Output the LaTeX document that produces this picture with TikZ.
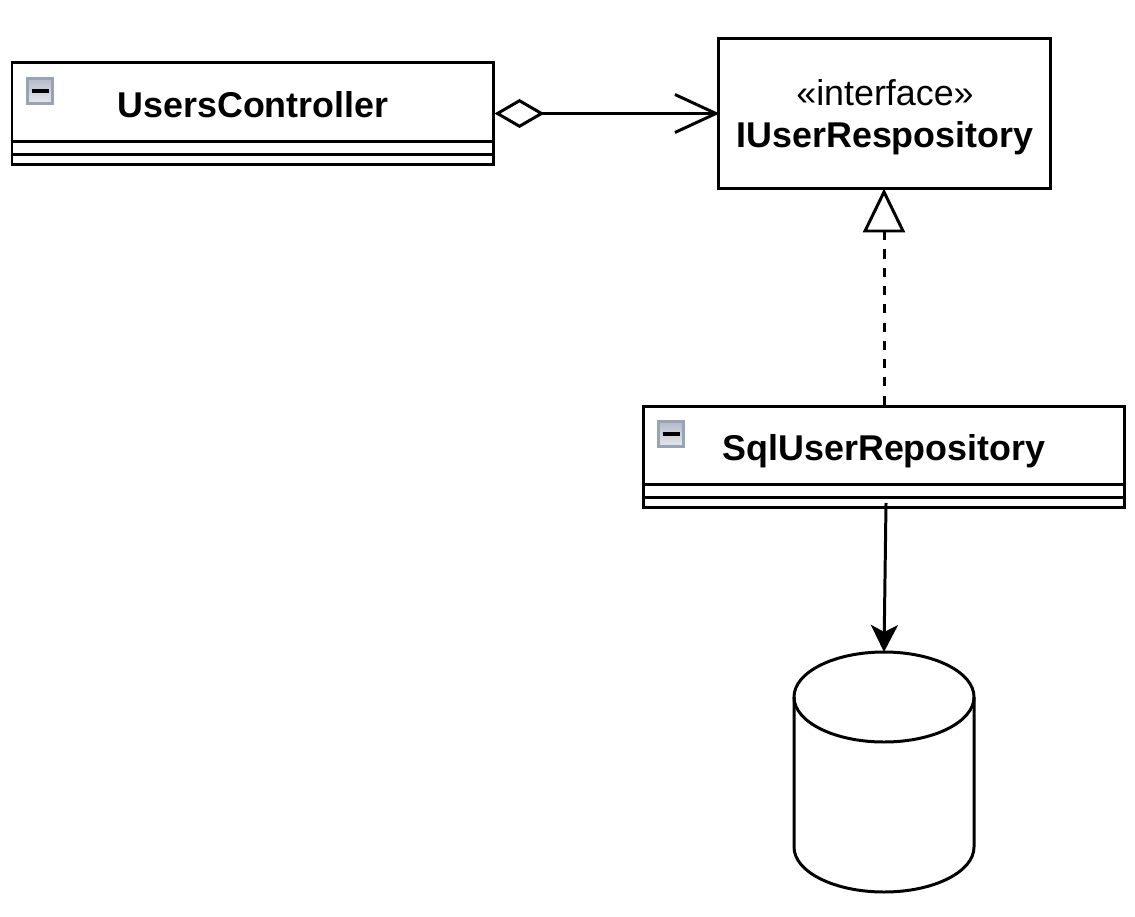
\documentclass[tikz,border=0pt]{standalone}
\usepackage{fontspec}
\setmainfont{Liberation Sans}
\usepackage{xcolor}
\usetikzlibrary{arrows.meta,positioning,calc,shapes.geometric}
\definecolor{IconEdge}{HTML}{98A3B6}
\definecolor{IconTop}{HTML}{B4BAC8}
\definecolor{IconBottom}{HTML}{E6E7EA}

\begin{document}
\begin{tikzpicture}[
  line width=1.7pt,
  font=\fontsize{20.4}{24}\selectfont,
  classbox/.style={draw,minimum width=9.62cm,minimum height=2.03cm},
  classname/.style={font=\fontsize{20.4}{24}\selectfont\bfseries},
  iconbox/.style={draw=IconEdge,line width=1.2pt,top color=IconTop,bottom color=IconBottom,minimum size=0.5cm,inner sep=0pt,
    path picture={\draw[black,line width=2.2pt] ($(path picture bounding box.center)+(-0.17,0)$) -- ($(path picture bounding box.center)+(0.17,0)$);}},
  aggr/.style={{Diamond[open,length=1cm,width=0.58cm]}-{Straight Barb[length=0.82cm,width=0.76cm]},shorten >=-0.06cm},
  realize/.style={-{Triangle[open,length=0.88cm,width=0.84cm]},dash pattern=on 5.2pt off 5.2pt,shorten >=-0.03cm},
  arr/.style={-{Stealth[length=0.54cm,width=0.54cm,inset=0.14cm]}}
]
  \useasboundingbox (0,0) rectangle (22.7,18.32);
  \node[classbox] (users) at (5.05,16.05) {};
  \node[classname] (usersname) at (5.06,16.22) {UsersController};
  \node[iconbox] (usersicon) at (0.8,16.5) {};
  \node[draw,minimum width=6.64cm,minimum height=3cm] (repo) at (17.68,16.05) {};
  \node[align=center] (repotext) at (17.7,15.98) {«interface»\\\textbf{IUserRespository}};
  \node[classbox] (sql) at (17.68,9.18) {};
  \node[classname] (sqlname) at (17.68,9.3) {SqlUserRepository};
  \node[iconbox] (sqlicon) at (13.42,9.64) {};
  \node[draw,ellipse,minimum width=3.6cm,minimum height=1.8cm,inner sep=0pt,outer sep=0pt] (dbtop) at (17.68,4.38) {};
  \draw (dbtop.west) -- ++(0,-3) arc (180:360:1.8 and 0.9) -- (dbtop.east);
  \coordinate (sqlout) at (17.72,8.26);
  \foreach \cls/\upper/\lower in {users/0.48/0.22,sql/0.5/0.24} {
    \draw ($(\cls.south west)+(0,\upper)$) -- ($(\cls.south east)+(0,\upper)$);
    \draw ($(\cls.south west)+(0,\lower)$) -- ($(\cls.south east)+(0,\lower)$);
  }
  \draw[aggr] (users) -- (repo);
  \draw[realize] (sql) -- (repo);
  \draw[arr] (sqlout) -- (dbtop.north);
\end{tikzpicture}
\end{document}
